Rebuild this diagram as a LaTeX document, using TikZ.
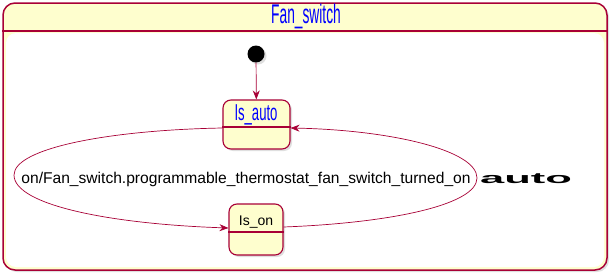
\documentclass[tikz,border=0pt]{standalone}
\usepackage{fontspec}
\setmainfont{Liberation Sans}
\usetikzlibrary{arrows.meta, positioning, shadows}
\definecolor{umlred}{HTML}{A80036}
\definecolor{umlfill}{HTML}{FEFECE}

\begin{document}
\begin{tikzpicture}[
    x=1pt, y=-1pt,
    umlshadow/.style={drop shadow={opacity=0.25, shadow xshift=2pt, shadow yshift=-2pt}},
    box/.style={draw=umlred, fill=umlfill, line width=1.1pt, rounded corners=8pt,
                inner sep=0pt, umlshadow},
    sep/.style={umlred, line width=1.1pt},
    ar/.style={-{Stealth[length=9pt, width=7pt]}, umlred, line width=0.7pt},
    bigname/.style={text=blue, inner sep=0pt, anchor=base},
    trig/.style={font=\fontsize{15.6}{16}\selectfont, inner sep=0pt, anchor=base}
]
\useasboundingbox (0,0) rectangle (612,273);

% composite state
\node[box, rounded corners=12pt, line width=1.5pt, minimum width=604pt, minimum height=267pt]
    (fanswitch) at (305,136.5) {};
\fill[white, rounded corners=10pt] (6,33) rectangle (604,267);
\draw[sep, line width=1.5pt] (fanswitch.west |- 0,31) -- (fanswitch.east |- 0,31);
\node[bigname, font=\fontsize{27}{27}\selectfont] (title) at (306,23) {\scalebox{0.51}[1]{Fan\_switch}};

% initial pseudo state
\node[circle, fill=black, minimum size=17pt, inner sep=0pt, umlshadow] (init) at (256,54) {};

% substates
\node[box, minimum width=67pt, minimum height=49pt] (isauto) at (256.5,124.5) {};
\draw[sep] (isauto.west |- 0,127) -- (isauto.east |- 0,127);
\node[bigname, font=\fontsize{23}{23}\selectfont] (autoname) at (256,120) {\scalebox{0.57}[1]{Is\_auto}};

\node[box, minimum width=54pt, minimum height=51pt] (ison) at (256,229.5) {};
\draw[sep] (ison.west |- 0,232) -- (ison.east |- 0,232);
\node[bigname, text=black, font=\fontsize{14}{14}\selectfont] (onname) at (256,225) {Is\_on};

% transitions
\draw[ar] (init) -- (isauto);
\draw[ar] (isauto.west |- 0,128) .. controls (110,130) and (14,148) .. (14,175)
    .. controls (14,205) and (110,224) .. (ison.west |- 0,228);
\draw[ar] (ison.east |- 0,227) .. controls (390,223) and (477,205) .. (477,178)
    .. controls (477,150) and (390,130) .. (isauto.east |- 0,128);

\node[trig] (ontrig) at (246,183) {on/Fan\_switch.programmable\_thermostat\_fan\_switch\_turned\_on};
\node[trig, font=\bfseries\fontsize{15}{15}\selectfont, anchor=base west] (autotrig) at (480,183)
    {\scalebox{2.9}[1]{auto}};
\end{tikzpicture}
\end{document}
